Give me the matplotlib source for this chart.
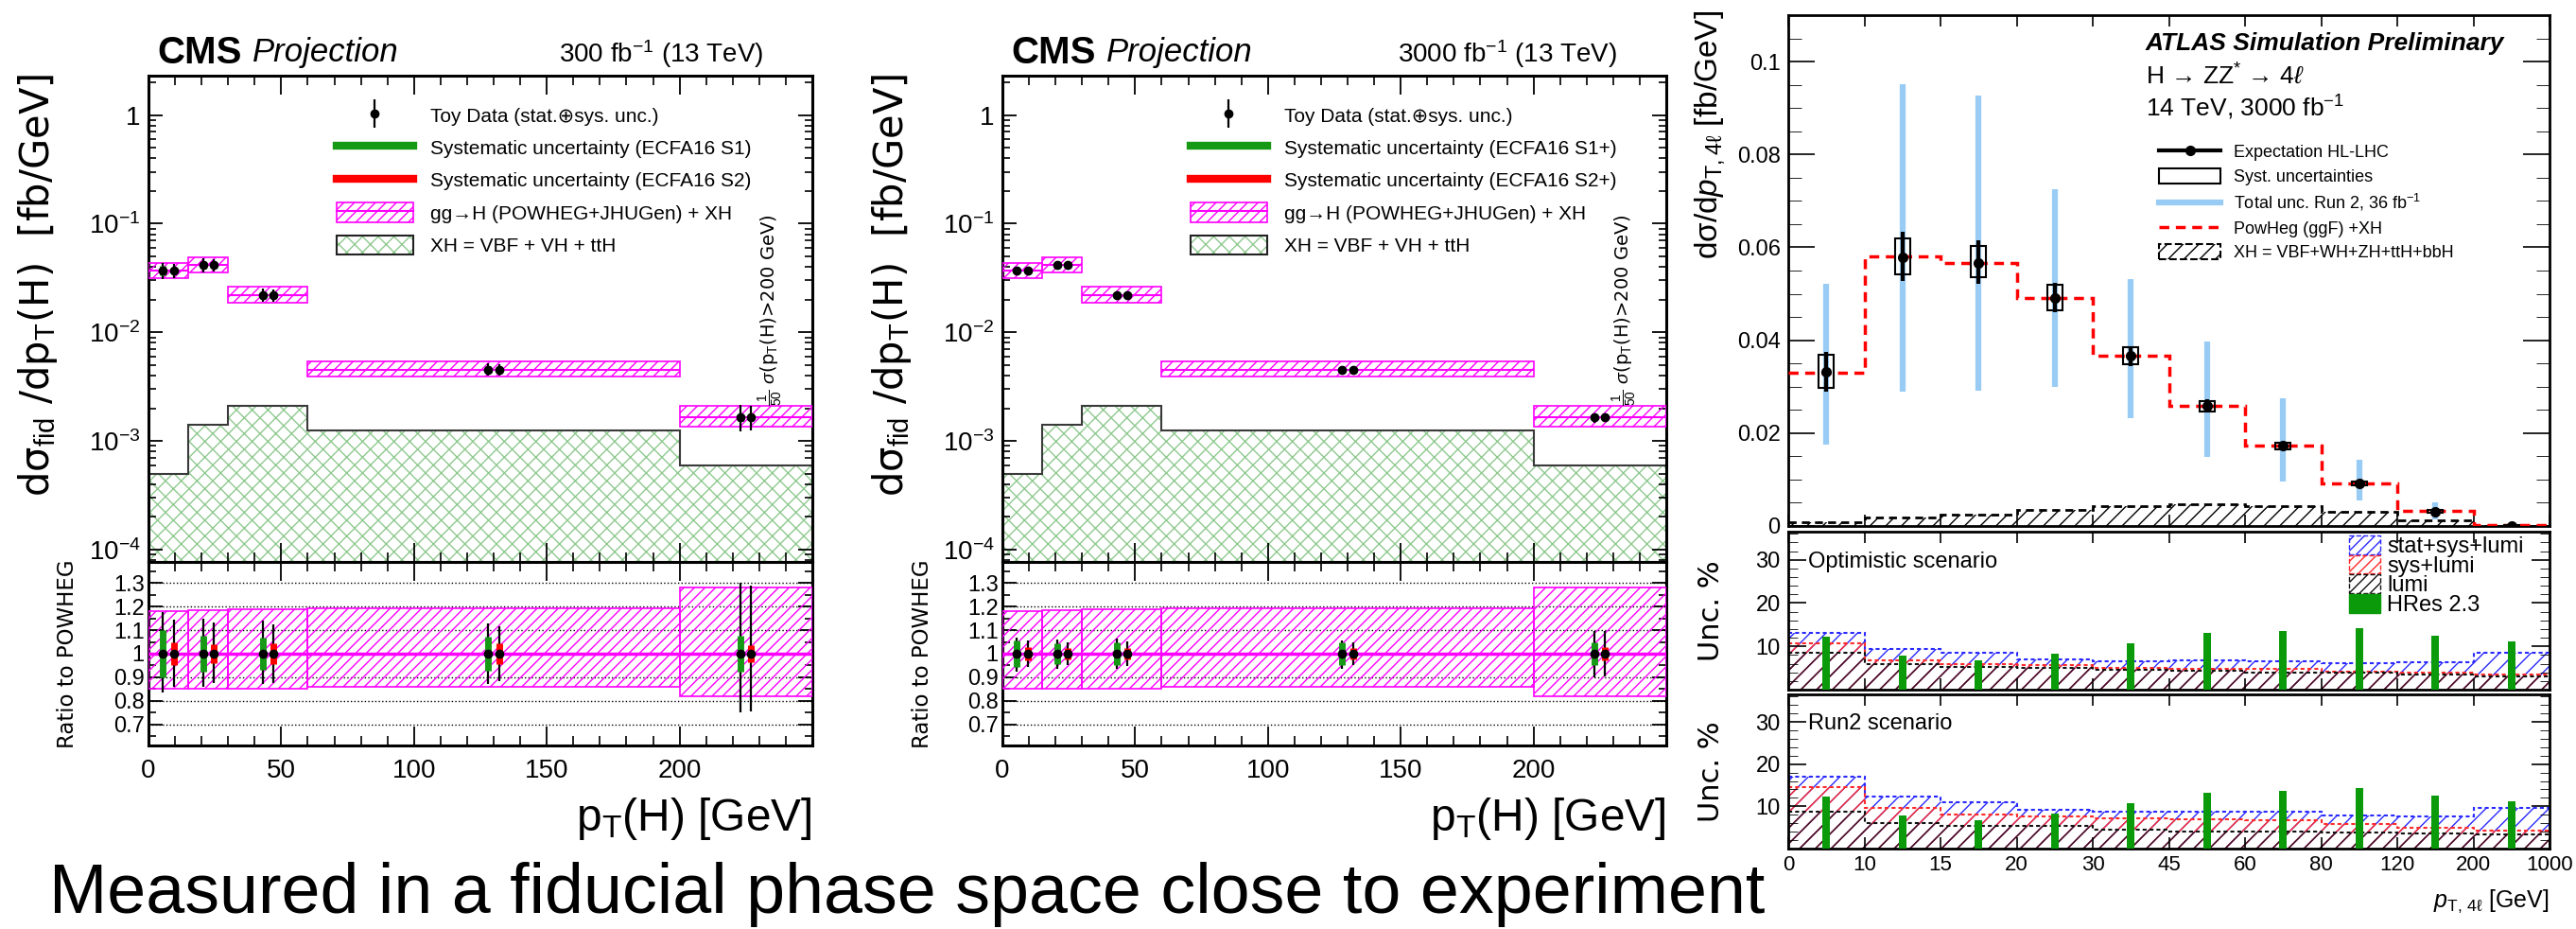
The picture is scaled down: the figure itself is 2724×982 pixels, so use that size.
import numpy as np
import matplotlib.pyplot as plt
from matplotlib.patches import Patch
from matplotlib.lines import Line2D
from matplotlib.legend_handler import HandlerTuple
from matplotlib.ticker import MultipleLocator, FixedLocator, LogLocator, NullFormatter, FuncFormatter

plt.rcParams['font.family'] = ['Liberation Sans', 'DejaVu Sans']
plt.rcParams['mathtext.fontset'] = 'custom'
plt.rcParams['mathtext.rm'] = 'Liberation Sans'
plt.rcParams['mathtext.it'] = 'Liberation Sans:italic'
plt.rcParams['mathtext.bf'] = 'Liberation Sans:bold'
plt.rcParams['hatch.linewidth'] = 1.0

# ---- CMS pT(H) projection ----
cms_edges = [0, 15, 30, 60, 200, 250]
powheg = [0.037, 0.0415, 0.022, 0.00455, 0.00164]
powheg_up = [1.182, 1.185, 1.188, 1.194, 1.281]
powheg_dn = [0.851, 0.851, 0.851, 0.858, 0.819]
xh = [5.0e-4, 1.4e-3, 2.1e-3, 1.26e-3, 6.0e-4]

# relative uncertainties, 300 fb-1
s1_tot_up_300 = [0.177, 0.150, 0.140, 0.130, 0.300]
s1_tot_dn_300 = [0.166, 0.140, 0.130, 0.130, 0.250]
s1_sys_300 = [0.100, 0.078, 0.070, 0.072, 0.075]
s2_tot_up_300 = [0.146, 0.132, 0.125, 0.115, 0.290]
s2_tot_dn_300 = [0.142, 0.126, 0.125, 0.115, 0.245]
s2_sys_300 = [0.048, 0.040, 0.045, 0.044, 0.037]

# relative uncertainties, 3000 fb-1
s1_tot_up_3000 = [0.070, 0.062, 0.064, 0.057, 0.097]
s1_tot_dn_3000 = [0.078, 0.066, 0.066, 0.066, 0.102]
s1_sys_3000 = [0.058, 0.046, 0.048, 0.050, 0.050]
s2_tot_up_3000 = [0.055, 0.050, 0.052, 0.050, 0.095]
s2_tot_dn_3000 = [0.055, 0.050, 0.052, 0.050, 0.095]
s2_sys_3000 = [0.030, 0.025, 0.025, 0.024, 0.028]

cms_ylog_ticks = [1e-4, 1e-3, 1e-2, 1e-1, 1]
cms_ylog_labels = ['$10^{-4}$', '$10^{-3}$', '$10^{-2}$', '$10^{-1}$', '1']
ratio_ticks = [0.7, 0.8, 0.9, 1.0, 1.1, 1.2, 1.3]
ratio_labels = ['0.7', '0.8', '0.9', '1', '1.1', '1.2', '1.3']
cms_xticks = [0, 50, 100, 150, 200]

# ---- ATLAS pT,4l projection ----
atl_labels = ['0', '10', '15', '20', '30', '45', '60', '80', '120', '200', '1000']
powheg_atl = [0.0331, 0.0580, 0.0567, 0.0491, 0.0366, 0.0258, 0.0173, 0.0092, 0.0033, 0.0002]
hllhc = [0.0332, 0.0578, 0.0567, 0.0490, 0.0366, 0.0258, 0.0173, 0.0092, 0.0031, 0.0001]
tot_hi = [0.0375, 0.0633, 0.0615, 0.0524, 0.0388, 0.0273, 0.0182, 0.0098, 0.0038, 0.0003]
tot_lo = [0.0290, 0.0527, 0.0522, 0.0460, 0.0345, 0.0244, 0.0164, 0.0086, 0.0025, 0.0000]
syst_hi = [0.0369, 0.0620, 0.0602, 0.0519, 0.0384, 0.0268, 0.0180, 0.0096, 0.0034, 0.0002]
syst_lo = [0.0297, 0.0541, 0.0536, 0.0465, 0.0348, 0.0246, 0.0166, 0.0087, 0.0028, 0.0000]
run2_hi = [0.0521, 0.0951, 0.0926, 0.0726, 0.0531, 0.0398, 0.0275, 0.0142, 0.0051, np.nan]
run2_lo = [0.0176, 0.0289, 0.0292, 0.0300, 0.0233, 0.0149, 0.0096, 0.0055, 0.0015, np.nan]
xh_atl = [0.00087, 0.0018, 0.0025, 0.0035, 0.0042, 0.0046, 0.0042, 0.0031, 0.0013, 0.0001]

opt_total = [13.2, 9.4, 8.5, 7.1, 6.5, 6.7, 6.6, 6.1, 6.4, 8.6]
opt_sys = [10.7, 6.8, 5.9, 5.6, 5.1, 4.7, 4.7, 4.2, 3.9, 3.5]
opt_lumi = [8.6, 6.0, 5.2, 5.1, 4.6, 4.4, 4.0, 3.9, 3.6, 3.1]
run2_total = [17.1, 12.3, 10.9, 9.1, 8.7, 8.8, 8.7, 7.8, 7.6, 9.6]
run2_sys = [14.6, 9.6, 8.0, 7.6, 7.2, 6.9, 6.7, 5.9, 4.9, 4.3]
run2_lumi = [8.7, 6.1, 5.4, 5.3, 4.5, 4.0, 4.0, 3.9, 3.5, 3.3]
hres = [12.3, 7.9, 6.8, 8.2, 10.8, 13.2, 13.6, 14.3, 12.5, 11.2]

MAG = '#ff00ff'
GRN = '#169a16'
RED = '#ff0000'
XHG = '#8fc98f'
BLUE_L = '#99ccf5'
U_BLUE = '#2a2aff'
U_RED = '#ff2a2a'
U_LUMI = '#3a1424'

W, H = 2724, 982
fig = plt.figure(figsize=(W / 100, H / 100), dpi=100)
overlay = {tuple: HandlerTuple(ndivide=1)}


def box(x0, y0, x1, y1):
    return [x0 / W, 1 - y1 / H, (x1 - x0) / W, (y1 - y0) / H]


def draw_cms(x0, x1, lumi, slabels, s1u, s1d, s1s, s2u, s2d, s2s):
    top = fig.add_axes(box(x0, 80, x1, 594))
    rat = fig.add_axes(box(x0, 594, x1, 788))
    edges = np.array(cms_edges, float)
    cen = 0.5 * (edges[:-1] + edges[1:])
    wid = np.diff(edges)
    pw = np.array(powheg)
    up = np.array(powheg_up)
    dn = np.array(powheg_dn)
    s1u, s1d, s1s = map(np.array, (s1u, s1d, s1s))
    s2u, s2d, s2s = map(np.array, (s2u, s2d, s2s))

    # XH contribution
    top.fill_between(edges, np.append(xh, xh[-1]), 1e-6, step='post',
                     facecolor='none', edgecolor=XHG, hatch='xx', lw=0, zorder=1)
    top.stairs(xh, edges, baseline=None, color='#3a3a3a', lw=1.5, zorder=2)
    # POWHEG prediction with its uncertainty
    top.bar(cen, pw * (up - dn), bottom=pw * dn, width=wid, facecolor='none',
            edgecolor=MAG, hatch='///', lw=1.2, zorder=3)
    top.hlines(pw, edges[:-1], edges[1:], color=MAG, lw=1.5, zorder=3)

    rat.bar(cen, up - dn, bottom=dn, width=wid, facecolor='none',
            edgecolor=MAG, hatch='///', lw=1.2, zorder=3)
    rat.stairs(np.ones(len(pw)), edges, baseline=None, color=MAG, lw=2.5, zorder=3)

    for ax, scale in ((top, pw), (rat, np.ones(len(pw)))):
        for off, tu, td, ss, col in ((-2, s1u, s1d, s1s, GRN), (2, s2u, s2d, s2s, RED)):
            xs = cen + off
            ax.errorbar(xs, scale, yerr=[scale * td, scale * tu], fmt='none',
                        ecolor='k', elinewidth=1.6, capsize=0, zorder=4)
            ax.errorbar(xs, scale, yerr=scale * ss, fmt='none',
                        ecolor=col, elinewidth=5, capsize=0, zorder=5)
            ax.plot(xs, scale, 'o', color='k', ms=6, zorder=6)

    top.set_yscale('log')
    top.set_ylim(7.7e-5, 2.3)
    top.set_xlim(0, 250)
    rat.set_xlim(0, 250)
    rat.set_ylim(0.61, 1.39)

    for ax in (top, rat):
        ax.tick_params(which='both', direction='in', top=True, right=True)
        ax.tick_params(axis='x', which='major', length=14.4, width=1.3)
        ax.tick_params(axis='x', which='minor', length=7.2, width=1.2)
        ax.tick_params(axis='y', which='major', length=10.8, width=1.3)
        ax.tick_params(axis='y', which='minor', length=5.8, width=1.2)
        ax.xaxis.set_major_locator(FixedLocator(cms_xticks))
        ax.xaxis.set_minor_locator(MultipleLocator(10))
        for sp in ax.spines.values():
            sp.set_linewidth(2.2)
    top.tick_params(labelbottom=False)
    top.yaxis.set_major_locator(FixedLocator(cms_ylog_ticks))
    top.set_yticklabels(cms_ylog_labels, fontsize=20)
    top.yaxis.set_minor_locator(LogLocator(subs=np.arange(2, 10)))
    top.yaxis.set_minor_formatter(NullFormatter())
    top.tick_params(axis='y', pad=6)

    rat.set_yticks(ratio_ticks, ratio_labels, fontsize=17)
    rat.yaxis.set_minor_locator(MultipleLocator(0.05))
    rat.tick_params(axis='y', pad=3)
    rat.set_xticks(cms_xticks, [str(v) for v in cms_xticks], fontsize=20)
    rat.tick_params(axis='x', pad=10)
    rat.grid(axis='y', ls=':', color='k', lw=1.0)

    # legend
    handles = [
        (Line2D([], [], color='k', lw=0, marker='|', ms=22, mew=1.6),
         Line2D([], [], color='k', ls='none', marker='o', ms=6)),
        Line2D([], [], color=GRN, lw=6),
        Line2D([], [], color=RED, lw=6),
        (Patch(facecolor='none', edgecolor=MAG, hatch='///', lw=1.2),
         Line2D([], [], color=MAG, lw=1.5)),
        (Patch(facecolor='none', edgecolor=XHG, hatch='xx', lw=0),
         Patch(facecolor='none', edgecolor='#222222', lw=1.5)),
    ]
    labels = ['Toy Data (stat.\u2295sys. unc.)',
              'Systematic uncertainty (ECFA16 %s)' % slabels[0],
              'Systematic uncertainty (ECFA16 %s)' % slabels[1],
              'gg\u2192H (POWHEG+JHUGen) + XH',
              'XH = VBF + VH + ttH']
    top.legend(handles, labels, handler_map=overlay,
               loc='upper left', bbox_to_anchor=(0.283, 0.939), frameon=False,
               fontsize=15, handlelength=3.9, handleheight=1.15, handletextpad=0.85,
               labelspacing=0.62, borderpad=0, borderaxespad=0)

    # headers and labels
    fig.text((x0 + 9) / W, 1 - 56 / H, 'CMS', fontsize=29, fontweight='bold',
             ha='left', va='center')
    fig.text((x0 + 110) / W, 1 - 56 / H, 'Projection', fontsize=25, fontstyle='italic',
             ha='left', va='center')
    fig.text((x1 - 52) / W, 1 - 57 / H, lumi, fontsize=20, ha='right', va='center')
    fig.text((x1 - 44) / W, 1 - 429 / H,
             r'$\frac{1}{50}$ $\sigma$(p$_{\rm T}$(H)>200 GeV)', rotation=90,
             fontsize=14, ha='center', va='bottom', family='DejaVu Sans')
    fig.text((x0 - 117) / W, 1 - 78 / H, 'd\u03c3$_{\\rm fid}$ /dp$_{\\rm T}$(H)  [fb/GeV]',
             rotation=90, fontsize=30, ha='center', va='top', family='DejaVu Sans')
    fig.text((x0 - 85) / W, 1 - 691 / H, 'Ratio to POWHEG', rotation=90,
             fontsize=16.5, ha='center', va='center', family='DejaVu Sans')
    fig.text(x1 / W, 1 - 865 / H, 'p$_{\\rm T}$(H) [GeV]', fontsize=34.5,
             ha='right', va='center')


draw_cms(157, 859, '300 fb$^{-1}$ (13 TeV)', ('S1', 'S2'),
         s1_tot_up_300, s1_tot_dn_300, s1_sys_300,
         s2_tot_up_300, s2_tot_dn_300, s2_sys_300)
draw_cms(1060, 1762, '3000 fb$^{-1}$ (13 TeV)', ('S1+', 'S2+'),
         s1_tot_up_3000, s1_tot_dn_3000, s1_sys_3000,
         s2_tot_up_3000, s2_tot_dn_3000, s2_sys_3000)

# ---- ATLAS panel ----
nb = len(powheg_atl)
e = np.arange(nb + 1)
c = e[:-1] + 0.5

ax = fig.add_axes(box(1891, 16, 2696, 556))
ax.fill_between(e, np.append(xh_atl, xh_atl[-1]), 0, step='post', facecolor='none',
                edgecolor='k', hatch='//', lw=0, zorder=1)
ax.stairs(xh_atl, e, baseline=None, color='k', ls=(0, (3, 2)), lw=2, zorder=2)
r2h = np.array(run2_hi)
r2l = np.array(run2_lo)
ok = ~np.isnan(r2h)
ax.vlines(c[ok], r2l[ok], r2h[ok], color=BLUE_L, lw=4.5, zorder=3)
ax.stairs(powheg_atl, e, baseline=None, color=RED, ls=(0, (3, 2)), lw=2.5, zorder=4)
sh = np.array(syst_hi)
sl = np.array(syst_lo)
ax.bar(c, sh - sl, bottom=sl, width=0.2, facecolor='none', edgecolor='k', lw=1.5, zorder=5)
hl = np.array(hllhc)
ax.errorbar(c, hl, yerr=[hl - np.array(tot_lo), np.array(tot_hi) - hl], fmt='o',
            color='k', ms=7, elinewidth=3, capsize=0, zorder=6)
ax.set_xlim(0, nb)
ax.set_ylim(0, 0.11)
ax.yaxis.set_major_locator(MultipleLocator(0.02))
ax.yaxis.set_minor_locator(MultipleLocator(0.005))
ax.yaxis.set_major_formatter(FuncFormatter(lambda v, p: '%g' % round(v, 3)))
ax.tick_params(axis='y', labelsize=17, pad=6)
ax.tick_params(axis='y', which='major', length=20)
ax.tick_params(axis='y', which='minor', length=10)

ah = [Line2D([], [], color='k', lw=3, marker='o', ms=7),
      Patch(facecolor='none', edgecolor='k', lw=1.5),
      Line2D([], [], color=BLUE_L, lw=4.5),
      Line2D([], [], color=RED, lw=2.5, ls=(0, (3, 2))),
      Patch(facecolor='none', edgecolor='k', hatch='//', lw=1.5, ls='--')]
al = ['Expectation HL-LHC', 'Syst. uncertainties', 'Total unc. Run 2, 36 fb$^{-1}$',
      'PowHeg (ggF) +XH', 'XH = VBF+WH+ZH+ttH+bbH']
ax.legend(ah, al, loc='upper left', bbox_to_anchor=(0.487, 0.748), frameon=False,
          fontsize=13, handlelength=3.6, handleheight=1.0, handletextpad=0.78,
          labelspacing=0.4, borderpad=0, borderaxespad=0)
fig.text(2269 / W, 1 - 46 / H, 'ATLAS Simulation Preliminary', fontsize=19,
         fontweight='bold', fontstyle='italic', ha='left', va='center')
fig.text(2269 / W, 1 - 80 / H, 'H \u2192 ZZ$^{*}$ \u2192 4$\\ell$', fontsize=19,
         ha='left', va='center')
fig.text(2269 / W, 1 - 114 / H, '14 TeV, 3000 fb$^{-1}$', fontsize=19,
         ha='left', va='center')
fig.text(1808 / W, 1 - 11 / H, 'd\u03c3/d$p_{\\rm T,4\\ell}$ [fb/GeV]', rotation=90,
         fontsize=24, ha='center', va='top')

unc_axes = []
for (y0, y1), tot, sysl, lumi, name in (((562, 729), opt_total, opt_sys, opt_lumi, 'Optimistic scenario'),
                                         ((734, 897), run2_total, run2_sys, run2_lumi, 'Run2 scenario')):
    ua = fig.add_axes(box(1891, y0, 2696, y1))
    for vals, col in ((tot, U_BLUE), (sysl, U_RED), (lumi, U_LUMI)):
        ua.fill_between(e, np.append(vals, vals[-1]), 0, step='post', facecolor='none',
                        edgecolor=col, hatch='//', lw=0, zorder=1)
    for vals, col in ((tot, U_BLUE), (sysl, U_RED), (lumi, '#111111')):
        ua.stairs(vals, e, baseline=None, color=col, ls=(0, (2, 1.5)), lw=1.5, zorder=2)
    ua.bar(c, hres, width=0.1, color='#0a9a0a', zorder=3)
    ua.set_xlim(0, nb)
    ua.set_ylim(0, 36.5)
    ua.yaxis.set_major_locator(FixedLocator([10, 20, 30]))
    ua.yaxis.set_minor_locator(MultipleLocator(2))
    ua.tick_params(axis='y', labelsize=17, pad=6)
    ua.tick_params(axis='y', which='major', length=14)
    ua.tick_params(axis='y', which='minor', length=7)
    ua.text(0.026, 0.81, name, transform=ua.transAxes, fontsize=17, ha='left', va='center')
    fig.text(1810 / W, 1 - (y0 + y1) / 2 / H, 'Unc. %', rotation=90, fontsize=22,
             ha='center', va='center', family='DejaVu Sans')
    unc_axes.append(ua)

uh = [Patch(facecolor='none', edgecolor=U_BLUE, hatch='///', lw=1.0, ls='--'),
      Patch(facecolor='none', edgecolor=U_RED, hatch='///', lw=1.0, ls='--'),
      Patch(facecolor='none', edgecolor='#111111', hatch='///', lw=1.0, ls='--'),
      Patch(facecolor='#0a9a0a', edgecolor='#0a9a0a')]
ul = ['stat+sys+lumi', 'sys+lumi', 'lumi', 'HRes 2.3']
unc_axes[0].legend(uh, ul, loc='upper left', bbox_to_anchor=(0.737, 0.975), frameon=False,
                   fontsize=17, handlelength=1.4, handleheight=0.9, handletextpad=0.3,
                   labelspacing=-0.1, borderpad=0, borderaxespad=0)

for a in [ax] + unc_axes:
    a.xaxis.set_major_locator(FixedLocator(e))
    a.tick_params(which='both', direction='in', top=True, right=True)
    a.tick_params(axis='x', which='major', length=8.6, width=1.2)
    a.tick_params(axis='y', width=1.2)
    a.tick_params(labelbottom=False)
    for sp in a.spines.values():
        sp.set_linewidth(2.0)
unc_axes[1].tick_params(labelbottom=True)
unc_axes[1].set_xticks(e, atl_labels, fontsize=16)
unc_axes[1].tick_params(axis='x', pad=5)
fig.text(2696 / W, 1 - 953 / H, '$p_{\\rm T,\\,4\\ell}$ [GeV]', fontsize=18,
         ha='right', va='center')

fig.text(52 / W, 1 - 946 / H, 'Measured in a fiducial phase space close to experiment',
         fontsize=53, ha='left', va='center')

fig.savefig('out.png', dpi=100)
